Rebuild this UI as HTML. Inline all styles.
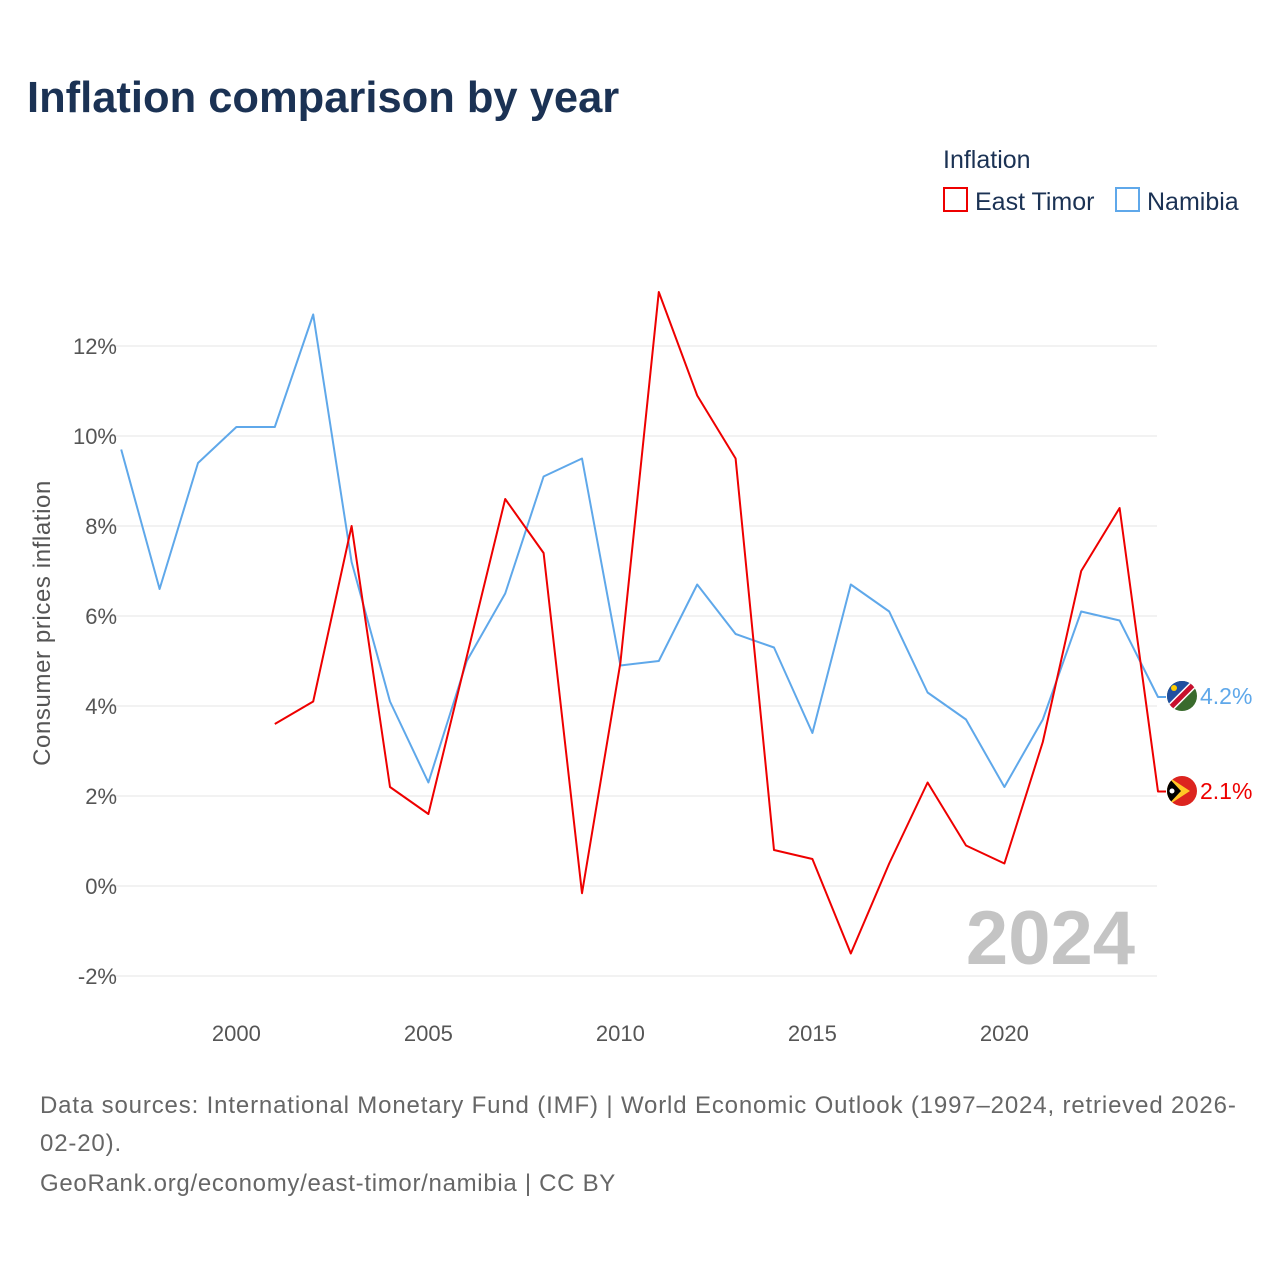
<!DOCTYPE html>
<html><head><meta charset="utf-8"><style>
body{margin:0;background:#fff;font-family:"Liberation Sans",sans-serif;}
svg{display:block}
</style></head><body>
<svg width="1280" height="1280" xmlns="http://www.w3.org/2000/svg">
<text x="27" y="112" font-size="43.5" font-weight="bold" fill="#1b3254">Inflation comparison by year</text>
<text x="943" y="168" font-size="25" fill="#1b3254">Inflation</text>
<g><rect x="944" y="188" width="23" height="23" fill="none" stroke="#ee0000" stroke-width="2"/><text x="975" y="210" font-size="25" fill="#1b3254">East Timor</text></g>
<g><rect x="1116" y="188" width="23" height="23" fill="none" stroke="#5fa8ea" stroke-width="2"/><text x="1147" y="210" font-size="25" fill="#1b3254">Namibia</text></g>
<g id="grid"></g><g id="yticks"></g><g id="xticks"></g>
<text x="50" y="623" font-size="24" letter-spacing="0.6" fill="#555" transform="rotate(-90 50 623)" text-anchor="middle">Consumer prices inflation</text>
<text x="1135" y="964" font-size="76" font-weight="bold" fill="#c4c4c4" text-anchor="end">2024</text>
<g id="series"></g>
<g><clipPath id="c1"><circle cx="1182" cy="696" r="15"/></clipPath><g clip-path="url(#c1)"><rect x="1167" y="681" width="30" height="30" fill="#3a6b2d"/><polygon points="1167,681 1197,681 1167,711" fill="#1f4fa0"/><line x1="1167" y1="711" x2="1197" y2="681" stroke="#fff" stroke-width="8"/><line x1="1167" y1="711" x2="1197" y2="681" stroke="#c8102e" stroke-width="5"/><circle cx="1174" cy="688" r="3" fill="#ffce00"/></g></g>
<text x="1200" y="704" font-size="23" fill="#5fa8ea">4.2%</text>
<g><clipPath id="c2"><circle cx="1182" cy="791" r="15"/></clipPath><g clip-path="url(#c2)"><rect x="1167" y="776" width="30" height="30" fill="#dc241f"/><polygon points="1167,776 1190,791 1167,806" fill="#ffc726"/><polygon points="1167,776 1181,791 1167,806" fill="#000"/><circle cx="1172" cy="791" r="2.5" fill="#fff"/></g></g>
<text x="1200" y="799" font-size="23" fill="#ee0000">2.1%</text>
<text x="40" y="1113" font-size="24" letter-spacing="0.85" fill="#666">Data sources: International Monetary Fund (IMF) | World Economic Outlook (1997–2024, retrieved 2026-</text>
<text x="40" y="1151" font-size="24" letter-spacing="0.85" fill="#666">02-20).</text>
<text x="40" y="1191" font-size="24" letter-spacing="0.7" fill="#666">GeoRank.org/economy/east-timor/namibia | CC BY</text>
</svg>
<script>
const years=[1997,1998,1999,2000,2001,2002,2003,2004,2005,2006,2007,2008,2009,2010,2011,2012,2013,2014,2015,2016,2017,2018,2019,2020,2021,2022,2023,2024];
const namibia=[9.7,6.6,9.4,10.2,10.2,12.7,7.2,4.1,2.3,5.0,6.5,9.1,9.5,4.9,5.0,6.7,5.6,5.3,3.4,6.7,6.1,4.3,3.7,2.2,3.7,6.1,5.9,4.2];
const eastTimor=[null,null,null,null,3.6,4.1,8.0,2.2,1.6,5.1,8.6,7.4,-0.16,4.96,13.2,10.9,9.5,0.8,0.6,-1.5,0.5,2.3,0.9,0.5,3.2,7.0,8.4,2.1];
const yTicks=[-2,0,2,4,6,8,10,12];
const xTicks=[2000,2005,2010,2015,2020];
const NS="http://www.w3.org/2000/svg";
const x=v=>121.2+(v-1997)*38.4;
const y=v=>886-v*45;
function mk(t,a,p){const e=document.createElementNS(NS,t);for(const k in a)e.setAttribute(k,a[k]);document.getElementById(p).appendChild(e);return e;}
yTicks.forEach(t=>{
 const l=mk('line',{x1:100,x2:1157,y1:y(t),y2:y(t),stroke:'#e6e6e6','stroke-width':1},'grid');
 
 
 const tx=mk('text',{x:117,y:y(t)+8,'font-size':22,fill:'#555','text-anchor':'end'},'yticks');
 tx.textContent=t+'%';
 
 
});
xTicks.forEach(t=>{
 const tx=mk('text',{x:x(t),y:1041,'font-size':22,fill:'#555','text-anchor':'middle'},'xticks');
 tx.textContent=t;
 
 
});
function line(vals,color,name){
 let d='',started=false,last=null;
 vals.forEach((v,i)=>{if(v===null)return;d+=(started?'L':'M')+x(years[i])+' '+y(v)+' ';started=true;last=v;});
 d+='L1166 '+y(last);
 const p=mk('path',{d:d,fill:'none',stroke:color,'stroke-width':2,'stroke-linejoin':'round'},'series');
 
 
}
line(namibia,'#5fa8ea','namibia-line');
line(eastTimor,'#ee0000','east-timor-line');
</script>
</body></html>
